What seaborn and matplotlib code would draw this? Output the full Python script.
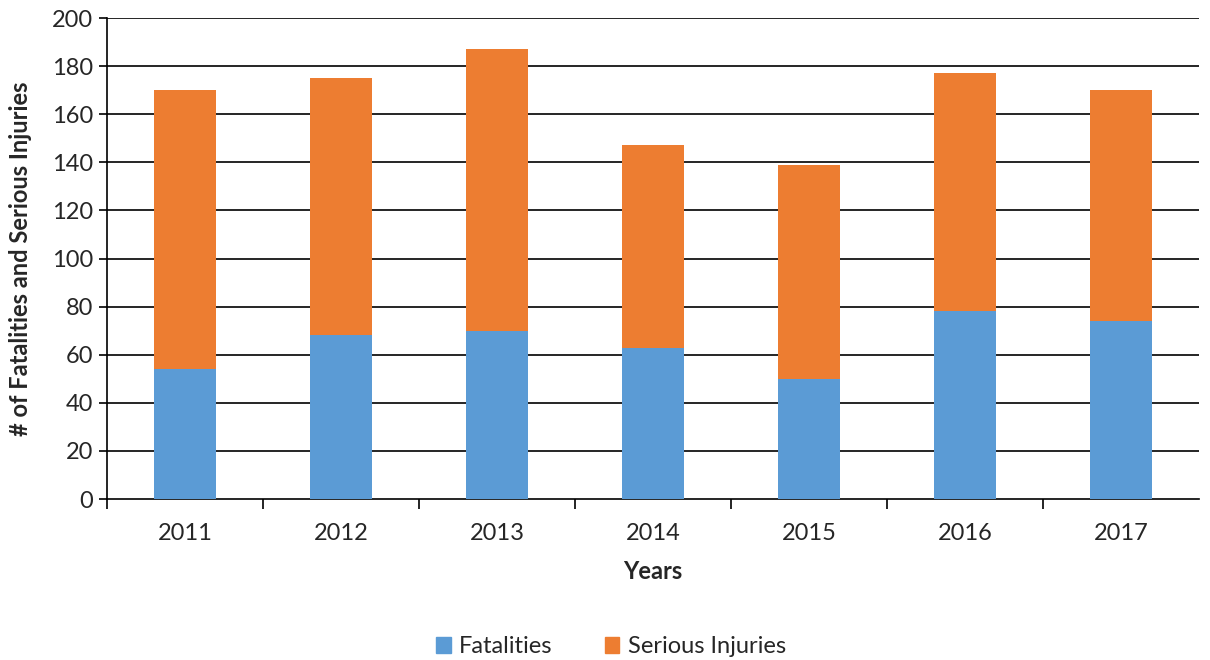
'''stacked bars fatalities and serious injuries by year'''
import pandas as pd
import matplotlib
matplotlib.use('Agg')
import matplotlib.pyplot as plt
import seaborn as sns

years = ['2011', '2012', '2013', '2014', '2015', '2016', '2017']
fatalities = [54, 68, 70, 63, 50, 78, 74]
serious_injuries = [116, 107, 117, 84, 89, 99, 96]

df = pd.DataFrame({'year': years, 'fatalities': fatalities,
                   'serious': serious_injuries})
df['total'] = df.fatalities + df.serious

sns.set_theme(style='white')
plt.rcParams['font.family'] = ['Lato', 'DejaVu Sans']

fig = plt.figure(figsize=(12.1, 6.6), dpi=100)
ax = fig.add_axes([0.0884, 0.2439, 0.9025, 0.7288])

blue = '#5B9BD5'
orange = '#ED7D31'

# gridlines under the bars
for v in range(20, 201, 20):
    ax.axhline(v, color='black', lw=1.2, zorder=0)

sns.barplot(data=df, x='year', y='total', color=orange, width=0.4,
            saturation=1, ax=ax, zorder=2, linewidth=0)
sns.barplot(data=df, x='year', y='fatalities', color=blue, width=0.4,
            saturation=1, ax=ax, zorder=3, linewidth=0)

ax.set_ylim(0, 200)
ax.set_xlim(-0.5, 6.5)
ax.set_yticks(range(0, 201, 20))
ax.tick_params(axis='y', labelsize=17, length=6, width=1.2, color='black',
               left=True, pad=4)
ax.tick_params(axis='x', which='major', labelsize=17, length=0, pad=17)
ax.set_xticks([i - 0.5 for i in range(7)], minor=True)
ax.tick_params(axis='x', which='minor', length=7, width=1.2, color='black',
               bottom=True)

for s in ['top', 'right']:
    ax.spines[s].set_visible(False)
for s in ['left', 'bottom']:
    ax.spines[s].set_color('black')
    ax.spines[s].set_linewidth(1.2)

ax.set_xlabel('Years', fontsize=17, fontweight='bold', labelpad=12)
ax.set_ylabel('# of Fatalities and Serious Injuries', fontsize=17,
              fontweight='bold', labelpad=14)

handles = [plt.Rectangle((0, 0), 1, 1, color=blue),
           plt.Rectangle((0, 0), 1, 1, color=orange)]
fig.legend(handles, ['Fatalities', 'Serious Injuries'],
           loc='center', bbox_to_anchor=(0.505, 0.02), ncol=2, frameon=False,
           fontsize=17, handlelength=0.62, handleheight=0.62,
           columnspacing=2.2, handletextpad=0.35)

fig.savefig('out.png', dpi=100)
